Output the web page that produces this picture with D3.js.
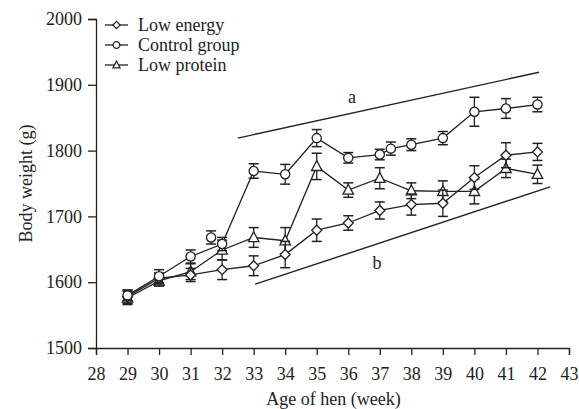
<!DOCTYPE html>
<html>
<head>
<meta charset="utf-8">
<script src="https://cdn.jsdelivr.net/npm/d3@7"></script>
<style>
  body { margin: 0; background: #fff; }
  svg text { font-family: "Liberation Serif", "DejaVu Serif", serif; fill: #222; }
</style>
</head>
<body>
<svg id="chart"></svg>
<script>
// Wochen (Alter der Hennen)
var weeks = [29, 30, 31, 32, 33, 34, 35, 36, 37, 38, 39, 40, 41, 42];
var xTicks = d3.range(28, 44);
var yTicks = [1500, 1600, 1700, 1800, 1900, 2000];

// Low energy
var lowEnergy    = [1578, 1606, 1611, 1619, 1625, 1642, 1679, 1690, 1709, 1718, 1720, 1759, 1793, 1798];
var lowEnergyErr = [10, 8, 10, 15, 15, 20, 17, 11, 13, 16, 20, 18, 19, 13];

// Control group (mit Zwischenpunkt bei ca. 37.4)
var controlWeeks = [29, 30, 31, 32, 33, 34, 35, 36, 37, 37.35, 38, 39, 40, 41, 42];
var control      = [1580, 1609, 1639, 1658, 1769, 1764, 1819, 1789, 1794, 1803, 1809, 1819, 1859, 1864, 1870];
var controlErr   = [8, 10, 10, 10, 11, 15, 13, 8, 8, 10, 9, 10, 22, 15, 11];
// einzelner, nicht verbundener Punkt
var controlExtraWeek = [31.65];
var controlExtra     = [1668];
var controlExtraErr  = [10];

// Low protein
var lowProtein    = [1576, 1602, 1616, 1649, 1668, 1663, 1776, 1740, 1758, 1739, 1738, 1738, 1773, 1764];
var lowProteinErr = [10, 8, 12, 15, 15, 20, 20, 11, 16, 12, 16, 19, 14, 14];

// Trendlinien a und b
var trendA = [[32.5, 1819], [42.05, 1919]];
var trendB = [[33.05, 1597], [42.4, 1745]];

var width = 579, height = 409;
var margin = { top: 19, right: 10, bottom: 61, left: 96 };

var svg = d3.select('#chart')
  .attr('width', width)
  .attr('height', height);

var x = d3.scaleLinear().domain([28, 43]).range([margin.left, width - margin.right]);
var y = d3.scaleLinear().domain([1500, 2000]).range([height - margin.bottom, margin.top]);

var ink = '#222';

// Achsen
var xAxis = svg.append('g')
  .attr('transform', 'translate(0,' + (height - margin.bottom) + ')')
  .call(d3.axisBottom(x).tickValues(xTicks).tickSize(7).tickPadding(12).tickFormat(d3.format('d')));
var yAxis = svg.append('g')
  .attr('transform', 'translate(' + margin.left + ',0)')
  .call(d3.axisLeft(y).tickValues(yTicks).tickSize(8).tickPadding(6).tickFormat(d3.format('d')));

[xAxis, yAxis].forEach(function(g) {
  g.select('.domain').attr('stroke', ink).attr('stroke-width', 1.3);
  g.selectAll('.tick line').attr('stroke', ink).attr('stroke-width', 1.3);
  g.selectAll('.tick text').style('font-size', '18px').attr('fill', ink)
    .style('font-family', '"Liberation Serif", serif');
});

// Achsentitel
svg.append('text')
  .attr('x', (margin.left + width - margin.right) / 2 + 1)
  .attr('y', 405)
  .attr('text-anchor', 'middle')
  .style('font-size', '18px')
  .text('Age of hen (week)');

svg.append('text')
  .attr('transform', 'translate(32,' + ((margin.top + height - margin.bottom) / 2) + ') rotate(-90)')
  .attr('text-anchor', 'middle')
  .style('font-size', '18px')
  .text('Body weight (g)');

// Trendlinien
[trendA, trendB].forEach(function(t) {
  svg.append('line')
    .attr('x1', x(t[0][0])).attr('y1', y(t[0][1]))
    .attr('x2', x(t[1][0])).attr('y2', y(t[1][1]))
    .attr('stroke', ink).attr('stroke-width', 1.4);
});
svg.append('text').attr('x', 352).attr('y', 103).attr('text-anchor', 'middle')
  .style('font-size', '18px').text('a');
svg.append('text').attr('x', 377).attr('y', 269).attr('text-anchor', 'middle')
  .style('font-size', '18px').text('b');

// Marker-Symbole
var sym = {
  diamond: function(r) { return 'M0,' + (-r) + 'L' + r + ',0L0,' + r + 'L' + (-r) + ',0Z'; },
  circle: function(r) { return 'M' + r + ',0A' + r + ',' + r + ' 0 1,1 ' + (-r) + ',0A' + r + ',' + r + ' 0 1,1 ' + r + ',0Z'; },
  triangle: function(r) { return 'M0,' + (-r * 1.05) + 'L' + (r * 0.95) + ',' + (r * 0.75) + 'L' + (-r * 0.95) + ',' + (r * 0.75) + 'Z'; }
};

function drawSeries(xs, vals, errs, shape, size, connect) {
  var pts = xs.map(function(w, i) { return { w: w, v: vals[i], e: errs[i] }; });
  var g = svg.append('g');

  // Fehlerbalken
  pts.forEach(function(p) {
    var cx = x(p.w);
    g.append('line').attr('x1', cx).attr('x2', cx)
      .attr('y1', y(p.v + p.e)).attr('y2', y(p.v - p.e))
      .attr('stroke', ink).attr('stroke-width', 1.3);
    [p.v + p.e, p.v - p.e].forEach(function(v) {
      g.append('line').attr('x1', cx - 5).attr('x2', cx + 5)
        .attr('y1', y(v)).attr('y2', y(v))
        .attr('stroke', ink).attr('stroke-width', 1.5);
    });
  });

  if (connect) {
    g.append('path')
      .datum(pts)
      .attr('d', d3.line().x(function(p) { return x(p.w); }).y(function(p) { return y(p.v); }))
      .attr('fill', 'none').attr('stroke', ink).attr('stroke-width', 1.3);
  }

  g.selectAll('path.m')
    .data(pts)
    .enter().append('path')
    .attr('class', 'm')
    .attr('transform', function(p) { return 'translate(' + x(p.w) + ',' + y(p.v) + ')'; })
    .attr('d', sym[shape](size))
    .attr('fill', '#fff').attr('stroke', ink).attr('stroke-width', 1.3);
}

drawSeries(weeks, lowProtein, lowProteinErr, 'triangle', 5.5, true);
drawSeries(weeks, lowEnergy, lowEnergyErr, 'diamond', 5, true);
drawSeries(controlWeeks, control, controlErr, 'circle', 4.6, true);
drawSeries(controlExtraWeek, controlExtra, controlExtraErr, 'circle', 4.6, false);

// Legende
var legend = [
  { name: 'Low energy', shape: 'diamond', r: 3.6 },
  { name: 'Control group', shape: 'circle', r: 3.4 },
  { name: 'Low protein', shape: 'triangle', r: 3.8 }
];
legend.forEach(function(d, i) {
  var ly = 25 + i * 20;
  svg.append('line').attr('x1', 105).attr('x2', 128).attr('y1', ly).attr('y2', ly)
    .attr('stroke', ink).attr('stroke-width', 1.3);
  svg.append('path')
    .attr('transform', 'translate(116.5,' + ly + ')')
    .attr('d', sym[d.shape](d.r))
    .attr('fill', '#fff').attr('stroke', ink).attr('stroke-width', 1.2);
  svg.append('text').attr('x', 138).attr('y', ly + 6)
    .style('font-size', '18px').text(d.name);
});
</script>
</body>
</html>
